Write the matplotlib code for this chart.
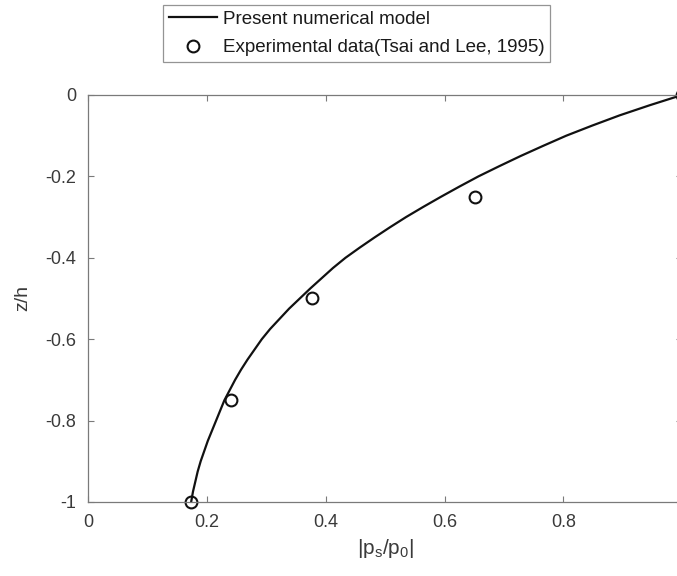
import matplotlib.pyplot as plt
import numpy as np

plt.rcParams['font.family'] = ['Liberation Sans', 'DejaVu Sans']
plt.rcParams['mathtext.fontset'] = 'custom'
plt.rcParams['mathtext.rm'] = 'Liberation Sans'
plt.rcParams['mathtext.it'] = 'Liberation Sans'
plt.rcParams['mathtext.default'] = 'regular'
plt.rcParams['axes.unicode_minus'] = False

# Numerical model: |ps/p0| along depth z/h
model_z = [-1.0, -0.975, -0.95, -0.925, -0.9, -0.875, -0.85, -0.825, -0.8,
           -0.775, -0.75, -0.725, -0.7, -0.675, -0.65, -0.625, -0.6, -0.575,
           -0.55, -0.525, -0.5, -0.475, -0.45, -0.425, -0.4, -0.375, -0.35,
           -0.325, -0.3, -0.275, -0.25, -0.225, -0.2, -0.175, -0.15, -0.125,
           -0.1, -0.075, -0.05, -0.025, 0.0]
model_p = [0.173, 0.176, 0.180, 0.184, 0.189, 0.195, 0.201, 0.208, 0.215,
           0.222, 0.229, 0.238, 0.247, 0.257, 0.268, 0.280, 0.292, 0.306,
           0.322, 0.338, 0.356, 0.374, 0.393, 0.412, 0.433, 0.457, 0.482,
           0.508, 0.535, 0.564, 0.594, 0.625, 0.657, 0.692, 0.728, 0.766,
           0.805, 0.849, 0.895, 0.946, 1.0]

# Experimental data (Tsai and Lee, 1995)
exp_z = [-1.0, -0.75, -0.5, -0.25, 0.0]
exp_p = [0.172, 0.240, 0.377, 0.652, 1.0]

xticks = [0, 0.2, 0.4, 0.6, 0.8, 1]
yticks = [-1, -0.8, -0.6, -0.4, -0.2, 0]

grey = '#7a7a7a'
txt = '#3a3a3a'

fig = plt.figure(figsize=(6.77, 5.76), dpi=100)
ax = fig.add_axes([0.1307, 0.1285, 0.8767, 0.7066])

ax.plot(model_p, model_z, color='#111111', lw=1.6,
        label='Present numerical model')
ax.plot(exp_p, exp_z, ls='none', marker='o', ms=8.5, mfc='none',
        mec='#111111', mew=1.5, clip_on=False,
        label='Experimental data(Tsai and Lee, 1995)')

ax.set_xlim(0, 1)
ax.set_ylim(-1, 0)
ax.set_xticks(xticks)
ax.set_yticks(yticks)
ax.set_xticklabels(['0', '0.2', '0.4', '0.6', '0.8', '1'])
ax.set_yticklabels(['-1', '-0.8', '-0.6', '-0.4', '-0.2', '0'])
ax.tick_params(direction='in', top=True, right=True, length=4.5, width=0.8,
               color=grey, labelcolor=txt, labelsize=13, pad=9)
for sp in ax.spines.values():
    sp.set_color(grey)
    sp.set_linewidth(0.9)

ax.set_xlabel(r'$|p_{s}/p_{0}|$', fontsize=15, color=txt, labelpad=4)
ax.set_ylabel('z/h', fontsize=14, color=txt, labelpad=10)

# legend sits above the axes, anchored in figure coordinates
leg = fig.legend(loc='upper left', bbox_to_anchor=(163 / 677, 1 - 5 / 576),
                 fontsize=13.5, frameon=True, fancybox=False,
                 handlelength=2.6, handletextpad=0.3, labelspacing=0.6,
                 borderpad=0.3, borderaxespad=0)
leg.get_frame().set_edgecolor(grey)
leg.get_frame().set_linewidth(0.9)
for t in leg.get_texts():
    t.set_color('#1a1a1a')

fig.savefig('out.png', dpi=100)
